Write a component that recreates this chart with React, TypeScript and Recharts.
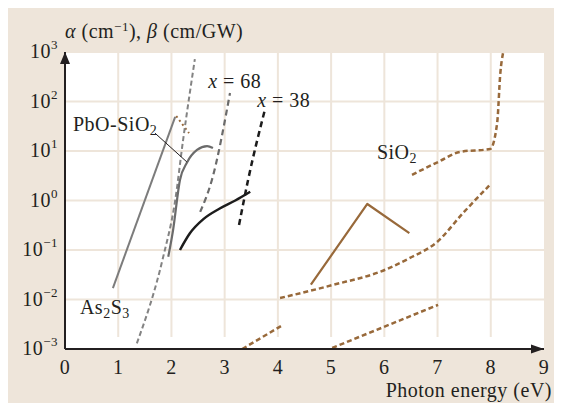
import { CartesianGrid, Line, LineChart, ReferenceDot, ReferenceLine, XAxis, YAxis } from 'recharts';

const SERIF = '"Liberation Serif", "Times New Roman", Times, serif';
const INK = '#231f20';
const BEIGE = '#eee5da';
const BROWN = '#98693a';
const FS = 20;

const X_TICKS = [0, 1, 2, 3, 4, 5, 6, 7, 8, 9];
const Y_TICKS = [0.001, 0.01, 0.1, 1, 10, 100, 1000];
// vertical grid lines stop a little above the energy axis
const V_GRID = [1, 2, 3, 4, 5, 6, 7, 8];
const V_GRID_FLOOR = 0.00175;

// As2S3 absorption (solid gray)
const AS2S3_E = [0.9, 2.07];
const AS2S3_A = [0.017, 49];
// As2S3 beta (brown dots)
const AS2S3_BETA_E = [2.09, 2.33];
const AS2S3_BETA = [51, 23];
// gray dashed, left
const GLASS_E = [1.35, 1.84, 2.07, 2.22, 2.44];
const GLASS_A = [0.0013, 0.069, 1.0, 17, 720];
// PbO-SiO2 (solid gray)
const PBO_E = [1.94, 2.03, 2.16, 2.29, 2.48, 2.67, 2.78];
const PBO_B = [0.073, 0.25, 2.6, 5.8, 10.5, 12.6, 11.5];
// x = 68 (gray dashed)
const X68_E = [2.54, 2.76, 3.1];
const X68_A = [0.59, 2.6, 148];
// x = 38 (black dashed)
const X38_E = [3.27, 3.44, 3.76];
const X38_A = [0.32, 2.6, 71];
// black solid
const BLACK_E = [2.16, 2.35, 2.6, 2.9, 3.2, 3.48];
const BLACK_B = [0.1, 0.22, 0.42, 0.68, 1.0, 1.5];
// brown solid with peak
const PEAK_E = [4.62, 5.68, 6.47];
const PEAK_B = [0.02, 0.85, 0.22];
// brown dashed, long
const LONG_E = [4.04, 5.02, 6.02, 6.48, 6.99, 7.48, 7.97];
const LONG_B = [0.0107, 0.0195, 0.04, 0.069, 0.145, 0.56, 2.0];
// brown dashed, short
const SHORT_E = [3.33, 4.08];
const SHORT_A = [0.001, 0.003];
// brown dashed, bottom
const LOW_E = [5.02, 7.01];
const LOW_A = [0.00105, 0.0078];
// SiO2 (brown dashed)
const SIO2_E = [6.52, 7.01, 7.42, 7.99, 8.12, 8.18, 8.23];
const SIO2_A = [3.3, 6.0, 9.6, 11, 37, 380, 950];

const zip = (xs: number[], ys: number[]) => xs.map((x, i) => ({ x, y: ys[i] }));

const textStyle = { fontFamily: SERIF, fontSize: FS, fill: INK, letterSpacing: 0.5 };

function YTick({ x, y, payload }: any) {
  const exp = Math.round(Math.log10(payload.value));
  return (
    <text x={x - 7} y={y} textAnchor="end" style={textStyle}>
      <tspan dy={6}>10</tspan>
      <tspan dy={-9} style={{ fontSize: 13 }}>{exp < 0 ? '\u2212' + -exp : exp}</tspan>
    </text>
  );
}

function XTick({ x, y, payload }: any) {
  return (
    <text x={x} y={y + 25} textAnchor="middle" style={textStyle}>
      {payload.value}
    </text>
  );
}

const txt = (children: any) => (p: any) => (
  <text x={p.cx} y={p.cy + 7} style={textStyle}>
    {children}
  </text>
);

const small = { fontSize: 14 };

export default function App() {
  const solid = (data: any, color: string, w = 2, curve: any = 'linear') => (
    <Line data={data} dataKey="y" type={curve} stroke={color} strokeWidth={w} dot={false} activeDot={false} isAnimationActive={false} strokeLinejoin="round" />
  );
  const dashed = (data: any, color: string, dash: string, w = 2.2, curve: any = 'linear') => (
    <Line data={data} dataKey="y" type={curve} stroke={color} strokeWidth={w} strokeDasharray={dash} dot={false} activeDot={false} isAnimationActive={false} />
  );

  return (
    <div style={{ width: 554, height: 395, background: BEIGE }}>
      <LineChart width={554} height={395} margin={{ top: 44, right: 18, left: 7, bottom: 24 }}>
        <CartesianGrid fill="#ffffff" stroke={BEIGE} strokeWidth={2} vertical={false} />
        {V_GRID.map((e) => (
          <ReferenceLine key={e} segment={[{ x: e, y: V_GRID_FLOOR }, { x: e, y: 1000 }]} stroke={BEIGE} strokeWidth={2} />
        ))}
        <XAxis
          type="number"
          dataKey="x"
          domain={[0, 9]}
          ticks={X_TICKS}
          height={30}
          tickLine={false}
          tickSize={0}
          tickMargin={0}
          axisLine={{ stroke: INK, strokeWidth: 2 }}
          tick={<XTick />}
          label={{
            content: (p: any) => (
              <text x={p.viewBox.x + p.viewBox.width + 8} y={p.viewBox.y + 48} textAnchor="end" style={textStyle}>
                Photon energy (eV)
              </text>
            ),
          }}
        />
        <YAxis
          type="number"
          scale="log"
          domain={[0.001, 1000]}
          ticks={Y_TICKS}
          width={50}
          tickLine={false}
          tickSize={0}
          tickMargin={0}
          axisLine={{ stroke: INK, strokeWidth: 2 }}
          tick={<YTick />}
          label={{
            content: (p: any) => (
              <text x={p.viewBox.x + p.viewBox.width} y={p.viewBox.y - 14} style={textStyle}>
                <tspan style={{ fontStyle: 'italic' }}>α</tspan> (cm
                <tspan dy={-7} style={{ fontSize: 13 }}>{'\u22121'}</tspan>
                <tspan dy={7}>), </tspan>
                <tspan style={{ fontStyle: 'italic' }}>β</tspan> (cm/GW)
              </text>
            ),
          }}
        />

        {solid(zip(AS2S3_E, AS2S3_A), '#7c7c7c')}
        {dashed(zip(AS2S3_BETA_E, AS2S3_BETA), BROWN, '2 3', 2)}
        {dashed(zip(GLASS_E, GLASS_A), '#838383', '5 3', 2, 'monotone')}
        {solid(zip(PBO_E, PBO_B), '#6b6b6b', 2.2, 'monotone')}
        {dashed(zip(X68_E, X68_A), '#6b6b6b', '6 4', 2.2, 'monotone')}
        {dashed(zip(X38_E, X38_A), '#1c1c1c', '6 4', 2.5, 'monotone')}
        {solid(zip(BLACK_E, BLACK_B), '#1c1c1c', 2.5, 'monotone')}
        {solid(zip(PEAK_E, PEAK_B), BROWN, 2.2)}
        {dashed(zip(LONG_E, LONG_B), BROWN, '5 3', 2.5, 'monotone')}
        {dashed(zip(SHORT_E, SHORT_A), BROWN, '5 3', 2.5)}
        {dashed(zip(LOW_E, LOW_A), BROWN, '5 3', 2.5)}
        {dashed(zip(SIO2_E, SIO2_A), BROWN, '5 3', 2.5, 'monotone')}

        <ReferenceLine segment={[{ x: 1.69, y: 23 }, { x: 2.29, y: 6 }]} stroke={INK} strokeWidth={1} />

        <ReferenceDot x={0.15} y={35} r={0} shape={txt(<>PbO-SiO<tspan dy={4} style={small}>2</tspan></>)} />
        <ReferenceDot
          x={0.28}
          y={0.0071}
          r={0}
          shape={txt(<>As<tspan dy={4} style={small}>2</tspan><tspan dy={-4}>S</tspan><tspan dy={4} style={small}>3</tspan></>)}
        />
        <ReferenceDot x={2.69} y={258} r={0} shape={txt(<><tspan style={{ fontStyle: 'italic' }}>x</tspan> = 68</>)} />
        <ReferenceDot x={3.61} y={107} r={0} shape={txt(<><tspan style={{ fontStyle: 'italic' }}>x</tspan> = 38</>)} />
        <ReferenceDot x={5.86} y={9.5} r={0} shape={txt(<>SiO<tspan dy={4} style={small}>2</tspan></>)} />

        <ReferenceDot
          x={0}
          y={1000}
          r={0}
          shape={(p: any) => <polygon points={`${p.cx - 5},${p.cy + 12} ${p.cx},${p.cy} ${p.cx + 5},${p.cy + 12}`} fill={INK} />}
        />
        <ReferenceDot
          x={9}
          y={0.001}
          r={0}
          shape={(p: any) => <polygon points={`${p.cx - 13},${p.cy - 4.5} ${p.cx},${p.cy} ${p.cx - 13},${p.cy + 4.5}`} fill={INK} />}
        />
      </LineChart>
    </div>
  );
}
